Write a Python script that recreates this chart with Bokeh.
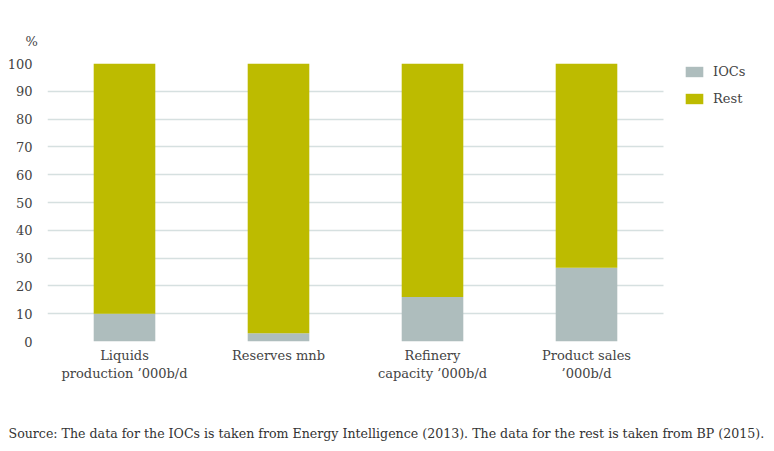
from bokeh.plotting import figure
from bokeh.models import (ColumnDataSource, Range1d, Legend, LegendItem, Title,
                          SingleIntervalTicker, FixedTicker)
from bokeh.embed import file_html
from bokeh.resources import INLINE

categories = ["Liquids\nproduction ’000b/d", "Reserves mnb", "Refinery\ncapacity ’000b/d", "Product sales\n’000b/d"]
iocs = [10, 3, 16, 26.5]
rest = [90, 97, 84, 73.5]
series_names = ["IOCs", "Rest"]
colors = ["#AEBDBD", "#BDBB00"]
source_note = "Source: The data for the IOCs is taken from Energy Intelligence (2013). The data for the rest is taken from BP (2015)."

FONT = "DejaVu Serif"
TXT = "#444444"

n = len(categories)
xpos = list(range(1, n + 1))            # category slots 1..n
src = ColumnDataSource(data=dict(x=xpos, IOCs=iocs, Rest=rest))

PLOT_W = 616      # width of the bar area
LEG_W = 111       # legend strip inside the frame
p = figure(frame_width=PLOT_W + LEG_W, frame_height=278,
           x_range=Range1d(0.5, 0.5 + n * (PLOT_W + LEG_W) / PLOT_W),
           y_range=Range1d(0, 100), output_backend="svg", toolbar_location=None,
           min_border_left=47, min_border_right=0, min_border_top=63, min_border_bottom=100)
p.outline_line_color = None
p.background_fill_color = "white"
p.border_fill_color = "white"

r = p.vbar_stack(series_names, x="x", width=0.4, source=src, color=colors, line_color=None)

p.xgrid.grid_line_color = None
p.ygrid.grid_line_color = "#D6E0E0"
p.ygrid.grid_line_width = 1.5
if "cross_bounds" in p.ygrid[0].properties():
    p.ygrid.cross_bounds = (0.5, n + 0.5)
else:
    p.ygrid.grid_line_color = None
    yt = list(range(0, 101, 10))
    p.segment(x0=[0.5] * len(yt), x1=[n + 0.5] * len(yt), y0=yt, y1=yt,
              line_color="#D6E0E0", line_width=1.5, level="underlay")

p.yaxis.ticker = SingleIntervalTicker(interval=10)
p.xaxis.ticker = FixedTicker(ticks=xpos)
p.xaxis.major_label_overrides = {k: c for k, c in zip(xpos, categories)}
for ax in (p.xaxis, p.yaxis):
    ax.axis_line_color = None
    ax.major_tick_line_color = None
    ax.minor_tick_line_color = None
    ax.major_label_text_font = FONT
    ax.major_label_text_font_size = "13px"
    ax.major_label_text_color = TXT
p.yaxis.major_label_standoff = 9
p.xaxis.major_label_standoff = 0

p.add_layout(Title(text="%", align="left", offset=-22, text_font=FONT, text_font_size="13px",
                   text_color=TXT, text_font_style="normal", standoff=30), "above")

legend = Legend(items=[LegendItem(label=series_names[0], renderers=[r[0]]),
                       LegendItem(label=series_names[1], renderers=[r[1]])],
                location=(PLOT_W + 20, 235), margin=0, padding=0, spacing=11,
                glyph_width=22, glyph_height=13, label_height=16, label_standoff=8,
                label_text_font=FONT, label_text_font_size="13px", label_text_color=TXT,
                border_line_color=None, background_fill_alpha=0)
p.add_layout(legend, "center")

p.add_layout(Title(text=source_note, align="left", offset=-39, text_font=FONT, text_font_size="12.6px",
                   text_color="#333333", text_font_style="normal", standoff=80), "below")

open("out.html", "w").write(file_html(p, INLINE))
